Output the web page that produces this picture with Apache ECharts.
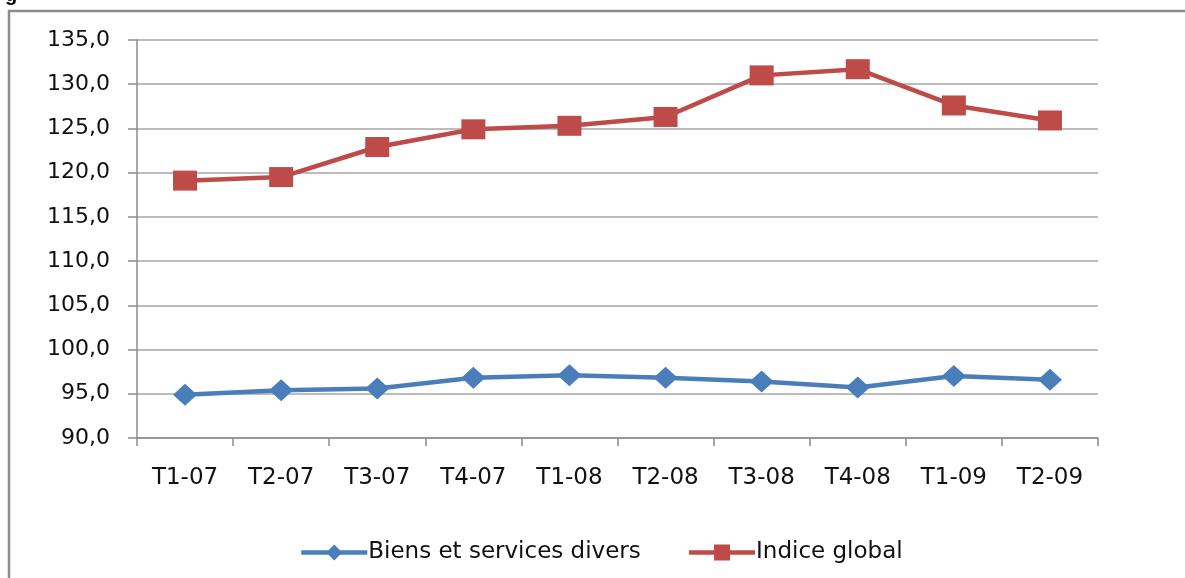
<!DOCTYPE html>
<html>
<head>
<meta charset="utf-8">
<script src="https://cdn.jsdelivr.net/npm/echarts@6/dist/echarts.min.js"></script>
<style>
    html, body { margin: 0; padding: 0; background: #fff; overflow: hidden; }
    #chart { width: 1185px; height: 578px; }
</style>
</head>
<body>
<div id="chart"></div>
<script>
// données
var trimestres = ['T1-07', 'T2-07', 'T3-07', 'T4-07', 'T1-08', 'T2-08', 'T3-08', 'T4-08', 'T1-09', 'T2-09'];
var biensServices = [94.9, 95.4, 95.6, 96.8, 97.1, 96.8, 96.4, 95.7, 97.0, 96.6];
var indiceGlobal = [119.1, 119.5, 122.9, 124.9, 125.3, 126.3, 131.0, 131.7, 127.6, 125.9];
var nomsSeries = ['Biens et services divers', 'Indice global'];

var police = '"DejaVu Sans", sans-serif';
var chart = echarts.init(document.getElementById('chart'));

chart.setOption({
    animation: false,
    backgroundColor: '#ffffff',
    graphic: [
        {   // cadre du graphique : bord gauche
            type: 'line',
            shape: { x1: 9, y1: 10, x2: 9, y2: 578 },
            style: { stroke: '#8c8c8c', lineWidth: 2.5 }
        },
        {   // cadre du graphique : bord haut
            type: 'line',
            shape: { x1: 8, y1: 11, x2: 1185, y2: 11 },
            style: { stroke: '#8c8c8c', lineWidth: 2.5 }
        },
        {   // bas du titre coupé
            type: 'text',
            x: 5, y: 5,
            style: { text: 'g', font: 'bold 20px "Liberation Sans"', fill: '#000', verticalAlign: 'bottom' }
        }
    ],
    grid: { left: 137, right: 87, top: 40, bottom: 140 },
    legend: {
        left: 294,
        top: 536,
        itemWidth: 66,
        itemHeight: 20,
        itemGap: 46,
        lineStyle: { width: 4.5 },
        textStyle: { fontFamily: police, fontSize: 23, color: '#111', padding: [0, 0, 0, -4] },
        data: nomsSeries
    },
    xAxis: {
        type: 'category',
        data: trimestres,
        boundaryGap: true,
        axisLine: { lineStyle: { color: '#8c8c8c', width: 1.5 } },
        axisTick: { show: true, length: 8, lineStyle: { color: '#8c8c8c', width: 1.5 } },
        axisLabel: { fontFamily: police, fontSize: 23, color: '#111', margin: 29 },
        splitLine: { show: false }
    },
    yAxis: {
        type: 'value',
        min: 90,
        max: 135,
        interval: 5,
        axisLine: { show: true, lineStyle: { color: '#8c8c8c', width: 1.5 } },
        axisTick: { show: true, length: 9, lineStyle: { color: '#8c8c8c', width: 1.5 } },
        axisLabel: {
            fontFamily: police, fontSize: 22, color: '#111', margin: 27,
            formatter: function (v) { return v.toFixed(1).replace('.', ','); }
        },
        splitLine: { lineStyle: { color: '#a6a6a6', width: 1.5 } }
    },
    series: [
        {
            name: nomsSeries[0],
            type: 'line',
            data: biensServices,
            symbol: 'diamond',
            symbolSize: [24, 22],
            itemStyle: { color: '#4a7ebb' },
            lineStyle: { color: '#4a7ebb', width: 4.5 }
        },
        {
            name: nomsSeries[1],
            type: 'line',
            data: indiceGlobal,
            symbol: 'rect',
            symbolSize: [24, 20],
            itemStyle: { color: '#be4b48' },
            lineStyle: { color: '#be4b48', width: 4.5 }
        }
    ]
});
</script>
</body>
</html>
